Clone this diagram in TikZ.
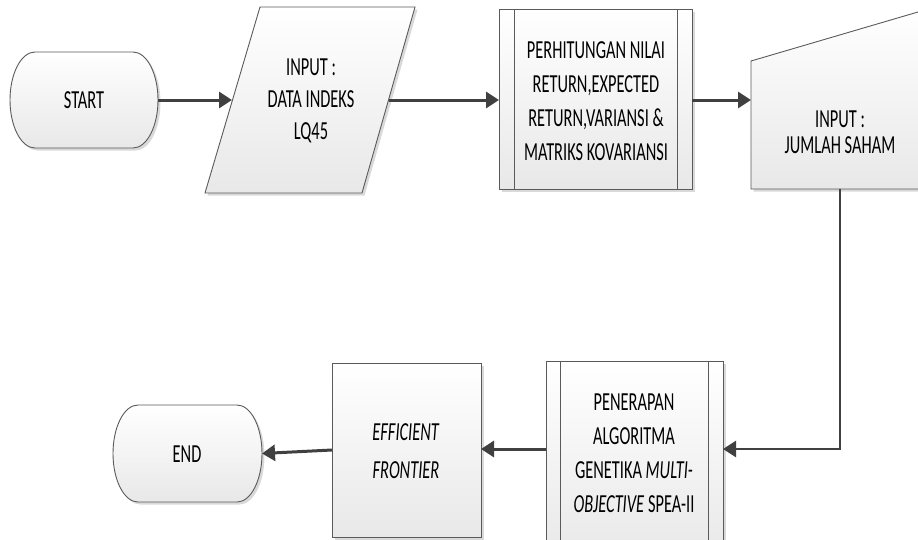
\documentclass[tikz,border=0pt]{standalone}
\usepackage{fontspec}
\setmainfont[FakeStretch=0.63]{Carlito}
\usetikzlibrary{shadows,arrows.meta}
\definecolor{edge}{HTML}{5A5A5A}
\definecolor{arr}{HTML}{404040}
\tikzset{
  shp/.style={draw=edge, line width=0.9pt, top color=white, bottom color=black!9,
    drop shadow={shadow xshift=2.5pt, shadow yshift=-2.5pt, fill=black, opacity=0.15}},
  inner/.style={draw=edge, line width=0.9pt},
  txt/.style={align=center, font=\fontsize{26}{33}\selectfont, inner sep=0pt},
  flow/.style={draw=arr, line width=3pt, -{Triangle[length=13pt,width=16pt]}},
  elbow/.style={draw=arr, line width=2.5pt, -{Triangle[length=13pt,width=16pt]}},
}
\begin{document}
\begin{tikzpicture}[x=1pt,y=-1pt]
\useasboundingbox (0,0) rectangle (918,539);
\clip (0,0) rectangle (918,539);
% START terminal
\path[shp] (35,52) -- (133,52) arc[start angle=90,end angle=-90,x radius=25pt,y radius=48pt]
  -- (35,148) arc[start angle=270,end angle=90,x radius=25pt,y radius=48pt] -- cycle;
\coordinate (startE) at (158,100);
% input parallelogram
\path[shp] (260,7) -- (415,7) -- (362,193) -- (205,193) -- cycle;
\coordinate (parW) at (232,100);
\coordinate (parE) at (389,100);
% process 1
\path[shp] (499,9) rectangle (692,189);
\draw[inner] (514,9) -- (514,189) (677,9) -- (677,189);
\coordinate (b1W) at (499,100);
\coordinate (b1E) at (692,100);
% manual input
\path[shp] (751,61) -- (935,7) -- (935,189) -- (751,189) -- cycle;
\coordinate (manW) at (751,100);
\coordinate (manS) at (840,189);
% process 2
\path[shp] (546,361) rectangle (723,560);
\draw[inner] (560,361) -- (560,560) (708,361) -- (708,560);
\coordinate (b2E) at (723,449);
\coordinate (b2W) at (546,449);
% process 3
\path[shp] (332,363) rectangle (481,537);
\coordinate (b3E) at (481,449);
\coordinate (b3W) at (332,450);
% END terminal
\path[shp] (138,405) -- (237,405) arc[start angle=90,end angle=-90,x radius=25pt,y radius=48.5pt]
  -- (138,502) arc[start angle=270,end angle=90,x radius=25pt,y radius=48.5pt] -- cycle;
\coordinate (endE) at (262,453.5);
% texts
\node[txt] (tstart) at (84,100) {START};
\node[txt, font=\fontsize{26}{32}\selectfont] (tin) at (311,101) {INPUT :\\DATA INDEKS\\LQ45};
\node[txt, font=\fontsize{26}{34}\selectfont] (tb1) at (596,101) {PERHITUNGAN NILAI\\RETURN,EXPECTED\\RETURN,VARIANSI \&\\MATRIKS KOVARIANSI};
\node[txt, font=\fontsize{26}{26.5}\selectfont] (tman) at (840,132) {INPUT :\\JUMLAH SAHAM};
\node[txt, font=\fontsize{26}{34}\selectfont] (tb2) at (634,453) {PENERAPAN\\ALGORITMA\\GENETIKA \textit{MULTI-}\\\textit{OBJECTIVE} SPEA-II};
\node[txt, font=\fontsize{26}{38}\selectfont] (tb3) at (406,451) {\textit{EFFICIENT}\\\textit{FRONTIER}};
\node[txt] (tend) at (187,454) {END};
% connectors
\draw[flow] (startE) -- (parW);
\draw[flow] (parE) -- (b1W);
\draw[flow] (b1E) -- (manW);
\draw[elbow] (manS) |- (b2E);
\draw[flow] (b2W) -- (b3E);
\draw[flow] (b3W) -- (endE);
\end{tikzpicture}
\end{document}
